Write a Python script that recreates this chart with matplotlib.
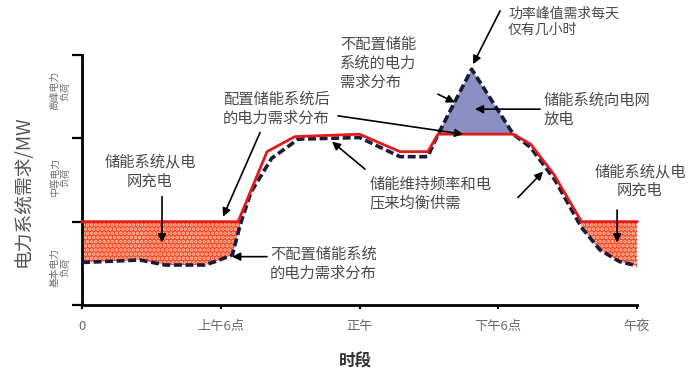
import numpy as np
import matplotlib
matplotlib.use("Agg")
import matplotlib.pyplot as plt

plt.rcParams['font.family'] = ['Noto Sans CJK SC', 'DejaVu Sans']
plt.rcParams['hatch.linewidth'] = 1.8

# ---- data ----
tick_hours = [0, 6, 12, 18, 24]
tick_labels = ["0", "上午6点", "正午", "下午6点", "午夜"]
level_names = ["基本电力\n负荷", "中等电力\n负荷", "高峰电力\n负荷"]
level_pos = [0.45, 1.53, 2.57]

# demand with storage (red line)
red_h = [0, 6.75, 8.0, 9.2, 12.0, 13.75, 14.95, 15.4, 18.65, 19.4, 20.4, 21.6, 24]
red_v = [1.0, 1.0, 1.84, 2.02, 2.05, 1.84, 1.84, 2.05, 2.05, 1.93, 1.57, 1.0, 1.0]

# demand without storage (dashed line)
base_h = [0, 2.5, 3.6, 5.3, 5.75, 6.5, 6.85, 7.3, 8.2, 9.35, 12.0, 13.75, 14.95,
          15.4, 16.85, 18.65, 19.4, 20.45, 21.6, 22.4, 23.25, 24]
base_v = [0.51, 0.54, 0.48, 0.48, 0.52, 0.6, 0.97, 1.35, 1.76, 1.99, 2.01, 1.78, 1.78,
          2.05, 2.83, 2.05, 1.89, 1.5, 0.93, 0.66, 0.52, 0.47]

red_h = np.array(red_h); red_v = np.array(red_v)
base_h = np.array(base_h); base_v = np.array(base_v)

fig = plt.figure(figsize=(6.93, 3.73), dpi=100)
ax = fig.add_axes([82/693, 1-305/373, 555/693, 250/373])
ax.set_xlim(0, 24)
ax.set_ylim(0, 3)

fill_kw = dict(facecolor='#f0482a', edgecolor='#ffbfa0', hatch='....', lw=0, zorder=1)
# charging fill (left)
m_r = red_h <= 6.75
m_b = base_h <= 6.85
px = np.concatenate([red_h[m_r], base_h[m_b][::-1]])
py = np.concatenate([red_v[m_r], base_v[m_b][::-1]])
ax.fill(px, py, **fill_kw)
# charging fill (right)
m_r = red_h >= 21.6
m_b = base_h >= 21.6
px = np.concatenate([red_h[m_r], base_h[m_b][::-1]])
py = np.concatenate([red_v[m_r], base_v[m_b][::-1]])
ax.fill(px, py, **fill_kw)
# discharging fill (peak)
m_b = (base_h >= 15.4) & (base_h <= 18.65)
ax.fill(base_h[m_b], base_v[m_b], facecolor='#8a8fc4', lw=0, zorder=1)

ax.plot(base_h, base_v, color='#1a1a3a', lw=2.6, linestyle=(0, (2.2, 1.0)),
        zorder=3, clip_on=False)
ax.plot(red_h, red_v, color='#e3191b', lw=2.0, zorder=4, clip_on=False)

# axes styling
for s in ['top', 'right']:
    ax.spines[s].set_visible(False)
for s in ['left', 'bottom']:
    ax.spines[s].set_linewidth(2.0)
ax.set_yticks([0, 1, 2, 3])
ax.set_yticklabels([])
ax.tick_params(axis='y', direction='out', length=7, width=1.6)
ax.set_xticks(tick_hours)
ax.set_xticklabels(tick_labels, fontsize=9.5, color='#6a6a6a')
ax.tick_params(axis='x', direction='out', length=3, width=1.5, pad=8)

for name, pos in zip(level_names, level_pos):
    ax.text(-0.95, pos, name, rotation=90, ha='center', va='center', fontsize=7,
            color='#707070', linespacing=1.1, transform=ax.transData)

fig.text(23/693, 1-191/373, "电力系统需求/MW", rotation=90, ha='center', va='center',
         fontsize=13.5, color='#555555')
fig.text(355/693, 1-362/373, "时段", ha='center', va='center', fontsize=12,
         fontweight='bold', color='#333333')

tc = '#4a4a4a'
fs = 11
def note(x, y, s, ha='center', size=fs):
    ax.text(x, y, s, ha=ha, va='center', fontsize=size, color=tc, linespacing=1.15)

def arrow(x0, y0, x1, y1):
    ax.annotate('', xy=(x1, y1), xytext=(x0, y0),
                arrowprops=dict(arrowstyle='-|>', color='black', lw=1.2,
                                mutation_scale=12, shrinkA=0, shrinkB=0),
                annotation_clip=False, zorder=6)

note(2.94, 1.60, "储能系统从电\n网充电")
arrow(3.46, 1.30, 3.46, 0.75)

note(8.39, 2.35, "配置储能系统后\n的电力需求分布")
arrow(7.70, 2.07, 6.10, 1.06)

note(8.13, 0.49, "不配置储能系统\n的电力需求分布", ha='left')
arrow(8.0, 0.58, 6.49, 0.58)

note(11.16, 2.90, "不配置储能\n系统的电力\n需求分布", ha='left')
arrow(15.39, 2.53, 16.13, 2.43)
arrow(11.07, 2.27, 16.48, 2.05)

note(18.42, 3.40, "功率峰值需求每天\n仅有几小时", ha='left', size=10)
arrow(18.08, 3.53, 16.91, 2.89)

note(19.94, 2.34, "储能系统向电网\n放电", ha='left')
arrow(19.81, 2.35, 16.99, 2.35)

note(12.45, 1.34, "储能维持频率和电\n压来均衡供需", ha='left')
arrow(12.24, 1.63, 10.81, 1.96)
arrow(18.85, 1.29, 19.94, 1.60)

note(24.13, 1.49, "储能系统从电\n网充电")
arrow(23.14, 1.14, 23.14, 0.75)

fig.savefig("out.png", dpi=100)
